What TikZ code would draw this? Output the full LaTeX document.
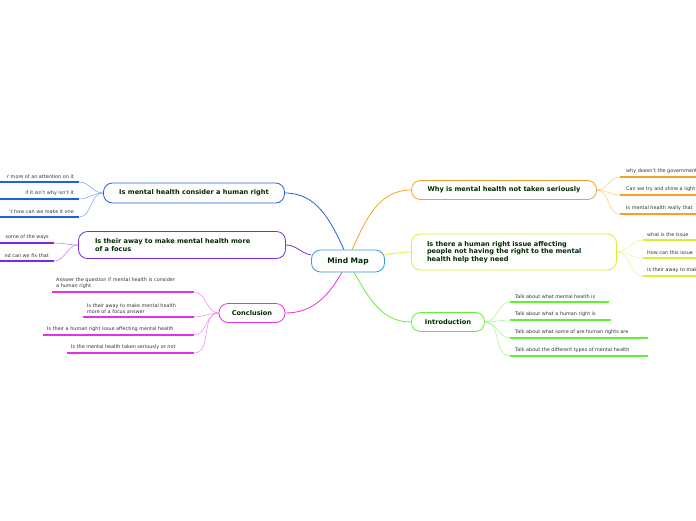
\documentclass[tikz,border=0pt]{standalone}
\usepackage{fontspec}
\setmainfont{DejaVu Sans}
\begin{document}
\begin{tikzpicture}[x=1pt,y=-1pt,
 main/.style={draw,rounded corners=9pt,line width=0.8pt,font=\bfseries\fontsize{6.6}{7.6}\selectfont,text=black!60!green!40!black,align=left,inner sep=0pt},
 leaf/.style={font=\fontsize{4.9}{5.9}\selectfont,text=black!80,inner sep=0pt,align=left},
 ul/.style={line width=1.3pt},
 br/.style={line width=0.5pt}]
\useasboundingbox (0,0) rectangle (696,520);
\clip (0,0) rectangle (696,520);
\definecolor{colb}{HTML}{1F5FE8}
\definecolor{colp}{HTML}{7A2BE8}
\definecolor{colm}{HTML}{E632E6}
\definecolor{colo}{HTML}{F5A02A}
\definecolor{coly}{HTML}{D8F030}
\definecolor{colg}{HTML}{62F032}
\definecolor{colc}{HTML}{3A9AD9}
% center
\node[main,draw=colc,minimum width=73pt,minimum height=22pt,align=center,font=\bfseries\fontsize{7.5}{9}\selectfont] (c) at (348,261) {Mind Map};
% main nodes
\node[main,draw=colb,minimum width=181pt,minimum height=20pt,align=center] (b) at (194,193) {Is mental health consider a human right};
\node[main,draw=colp,minimum width=207pt,minimum height=27pt,text width=190pt] (p) at (182,245) {\hspace*{8pt}Is their away to make mental health more\\\hspace*{8pt}of a focus};
\node[main,draw=colm,minimum width=66pt,minimum height=19pt,align=center] (m) at (252,313) {Conclusion};
\node[main,draw=colo,minimum width=185pt,minimum height=19pt,align=center] (o) at (504,190) {Why is mental health not taken seriously};
\node[main,draw=coly,minimum width=205pt,minimum height=36pt,text width=190pt] (y) at (514,252) {\hspace*{8pt}Is there a human right issue affecting\\\hspace*{8pt}people not having the right to the mental\\\hspace*{8pt}health help they need};
\node[main,draw=colg,minimum width=73pt,minimum height=19pt,align=center] (g) at (448,322) {Introduction};
% branches from center
\draw[color=colb,line width=0.8pt] (c.north) ++(-4,0) to[out=115,in=0] (b.east);
\draw[color=colp,line width=0.8pt] (c.west) ++(0,-6) to[out=170,in=0] (p.east);
\draw[color=colm,line width=0.8pt] (c.south) ++(-6,0) to[out=240,in=0] (m.east);
\draw[color=colo,line width=0.8pt] (c.north) ++(4,0) to[out=65,in=180] (o.west);
\draw[color=coly,line width=0.8pt] (c.east) ++(0,-6) to[out=10,in=180] (y.west);
\draw[color=colg,line width=0.8pt] (c.south) ++(6,0) to[out=300,in=180] (g.west);
% blue leaves
\foreach \yy/\t [count=\i] in {182/r more of an attention on it,199/if it isn't why isn't it,217/'t how can we make it one}{
 \coordinate (bl\i) at (79,\yy);
 \draw[color=colb,ul] (0,\yy) -- (bl\i);
 \node[leaf,anchor=south east] (blt\i) at (74,\yy-3) {\t};
 \draw[color=colb!60,br] (b.west) to[out=180,in=0] (bl\i);}
% purple leaves
\foreach \yy/\t [count=\i] in {243/some of the ways,261/nd can we fix that}{
 \coordinate (pl\i) at (54,\yy);
 \draw[color=colp,ul] (0,\yy) -- (pl\i);
 \node[leaf,anchor=south east] (plt\i) at (49,\yy-3) {\t};
 \draw[color=colp!60,br] (p.west) to[out=180,in=0] (pl\i);}
% conclusion leaves
\foreach \xx/\yy/\t [count=\i] in {52/292/{Answer the question if mental health is consider\\a human right},83/317/{Is their away to make mental health\\more of a focus answer},43/335/{Is their a human right issue affecting mental health},67/353/{Is the mental health taken seriously or not}}{
 \coordinate (ml\i) at (194,\yy);
 \draw[color=colm,ul] (\xx,\yy) -- (ml\i);
 \node[leaf,anchor=south west] (mlt\i) at (\xx+4,\yy-3) {\t};
 \draw[color=colm!60,br] (m.west) to[out=180,in=0] (ml\i);}
% orange leaves
\foreach \yy/\t [count=\i] in {177/why doesn't the government,195/Can we try and shine a light,214/Is mental health really that}{
 \coordinate (ol\i) at (620,\yy);
 \draw[color=colo,ul] (ol\i) -- (700,\yy);
 \node[leaf,anchor=south west] (olt\i) at (626,\yy-3) {\t};
 \draw[color=colo!60,br] (o.east) to[out=0,in=180] (ol\i);}
% yellow leaves
\foreach \yy/\t [count=\i] in {240/what is the issue,258/How can this issue,276/is their away to make}{
 \coordinate (yl\i) at (643,\yy);
 \draw[color=coly,ul] (yl\i) -- (700,\yy);
 \node[leaf,anchor=south west] (ylt\i) at (647,\yy-3) {\t};
 \draw[color=coly!60,br] (y.east) to[out=0,in=180] (yl\i);}
% intro leaves
\foreach \xe/\yy/\t [count=\i] in {609/302/Talk about what mental health is,611/320/Talk about what a human right is,648/338/Talk about what some of are human rights are,648/356/Talk about the different types of mental health}{
 \coordinate (gl\i) at (510,\yy);
 \draw[color=colg,ul] (gl\i) -- (\xe,\yy);
 \node[leaf,anchor=south west] (glt\i) at (515,\yy-3) {\t};
 \draw[color=colg!60,br] (g.east) to[out=0,in=180] (gl\i);}
\end{tikzpicture}
\end{document}
